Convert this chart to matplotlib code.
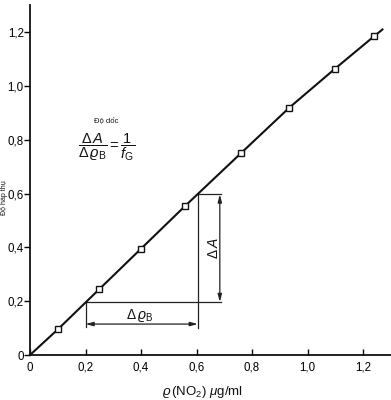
import matplotlib
matplotlib.use("Agg")
import matplotlib.pyplot as plt
from matplotlib.ticker import FixedLocator, FuncFormatter

plt.rcParams['font.family'] = ['Liberation Sans', 'DejaVu Sans']
plt.rcParams['mathtext.fontset'] = 'custom'
plt.rcParams['mathtext.rm'] = 'Liberation Sans'
plt.rcParams['mathtext.it'] = 'Liberation Sans:italic'
plt.rcParams['mathtext.bf'] = 'Liberation Sans:bold'

# measured points (concentration, absorbance)
conc = [0.10, 0.25, 0.40, 0.56, 0.76, 0.935, 1.10, 1.24]
absorb = [0.095, 0.245, 0.395, 0.555, 0.75, 0.92, 1.065, 1.185]
# calibration curve
curve_x = [0.0] + conc + [1.27]
curve_y = [0.0] + absorb + [1.21]

# slope triangle construction
x1, x2 = 0.20, 0.605
yA1, yA2 = 0.197, 0.597
ext_x = 0.69
arrow_dx_y = 0.115
arrow_dA_x = 0.684

ticks = [0, 0.2, 0.4, 0.6, 0.8, 1.0, 1.2]

W, H = 391, 400
fig = plt.figure(figsize=(W / 100, H / 100), dpi=100)
ox, oy = 30, 355
sx, sy = 277.5, 269
ax = fig.add_axes([ox / W, (H - oy) / H, 1.3 * sx / W, 1.3 * sy / H])
ax.set_xlim(0, 1.3)
ax.set_ylim(0, 1.3)
for s in ['top', 'right']:
    ax.spines[s].set_visible(False)
for s in ['left', 'bottom']:
    ax.spines[s].set_linewidth(1.3)
    ax.spines[s].set_color('#111111')

ax.plot(curve_x, curve_y, color='#111111', lw=1.5, zorder=3, clip_on=False)
ax.plot(conc, absorb, ls='none', marker='s', ms=4.2, mfc='white', mec='#111111',
        mew=1.0, zorder=4)

lc = '#222222'
lw = 0.9
ax.plot([x1, ext_x], [yA1, yA1], color=lc, lw=lw)
ax.plot([x2, x2], [yA2, 0.10], color=lc, lw=lw)
ax.plot([x2, ext_x], [yA2, yA2], color=lc, lw=lw)
ax.plot([x1, x1], [yA1, 0.105], color=lc, lw=lw)

ap = dict(arrowstyle='<|-|>,head_length=0.45,head_width=0.12', color=lc, lw=lw,
          shrinkA=0, shrinkB=0)
ax.annotate('', xy=(x1, arrow_dx_y), xytext=(x2, arrow_dx_y), arrowprops=ap)
ax.annotate('', xy=(arrow_dA_x, yA1), xytext=(arrow_dA_x, yA2), arrowprops=ap)

ax.text(0.396, 0.148, r'$\Delta\,\varrho_{\mathrm{B}}$', fontsize=10,
        ha='center', va='center', color='#111111')
ax.text(0.662, 0.396, r'$\Delta\,A$', fontsize=10, rotation=90,
        ha='center', va='center', color='#111111')

ax.text(0.273, 0.87, 'Độ dốc', fontsize=5.5, ha='center', va='center',
        color='#111111')
ax.text(0.276, 0.774, r'$\dfrac{\Delta\,A}{\Delta\,\varrho_{\mathrm{B}}}=\dfrac{1}{f_{\mathrm{G}}}$',
        fontsize=10.5, ha='center', va='center', color='#111111')

ax.xaxis.set_major_locator(FixedLocator(ticks))
ax.yaxis.set_major_locator(FixedLocator(ticks))
fmt = FuncFormatter(lambda v, p: '0' if abs(v) < 1e-9 else f'{v:.1f}'.replace('.', ','))
ax.xaxis.set_major_formatter(fmt)
ax.yaxis.set_major_formatter(fmt)
ax.tick_params(axis='x', direction='in', length=4, width=1.0, pad=5, labelsize=8.3)
ax.tick_params(axis='y', direction='out', length=4, width=1.0, pad=0.5, labelsize=8.3)

ax.text(0.623 / 1.3, -0.082, r'$\varrho\,$(NO$_2$) $\mu$g/ml', transform=ax.transAxes,
        fontsize=9.5, ha='center', va='top', color='#111111')
ax.text(-0.071, 0.449, 'Độ hấp thụ', transform=ax.transAxes, rotation=90,
        fontsize=5.0, ha='center', va='center', color='#111111')

fig.savefig('out.png', dpi=100)
